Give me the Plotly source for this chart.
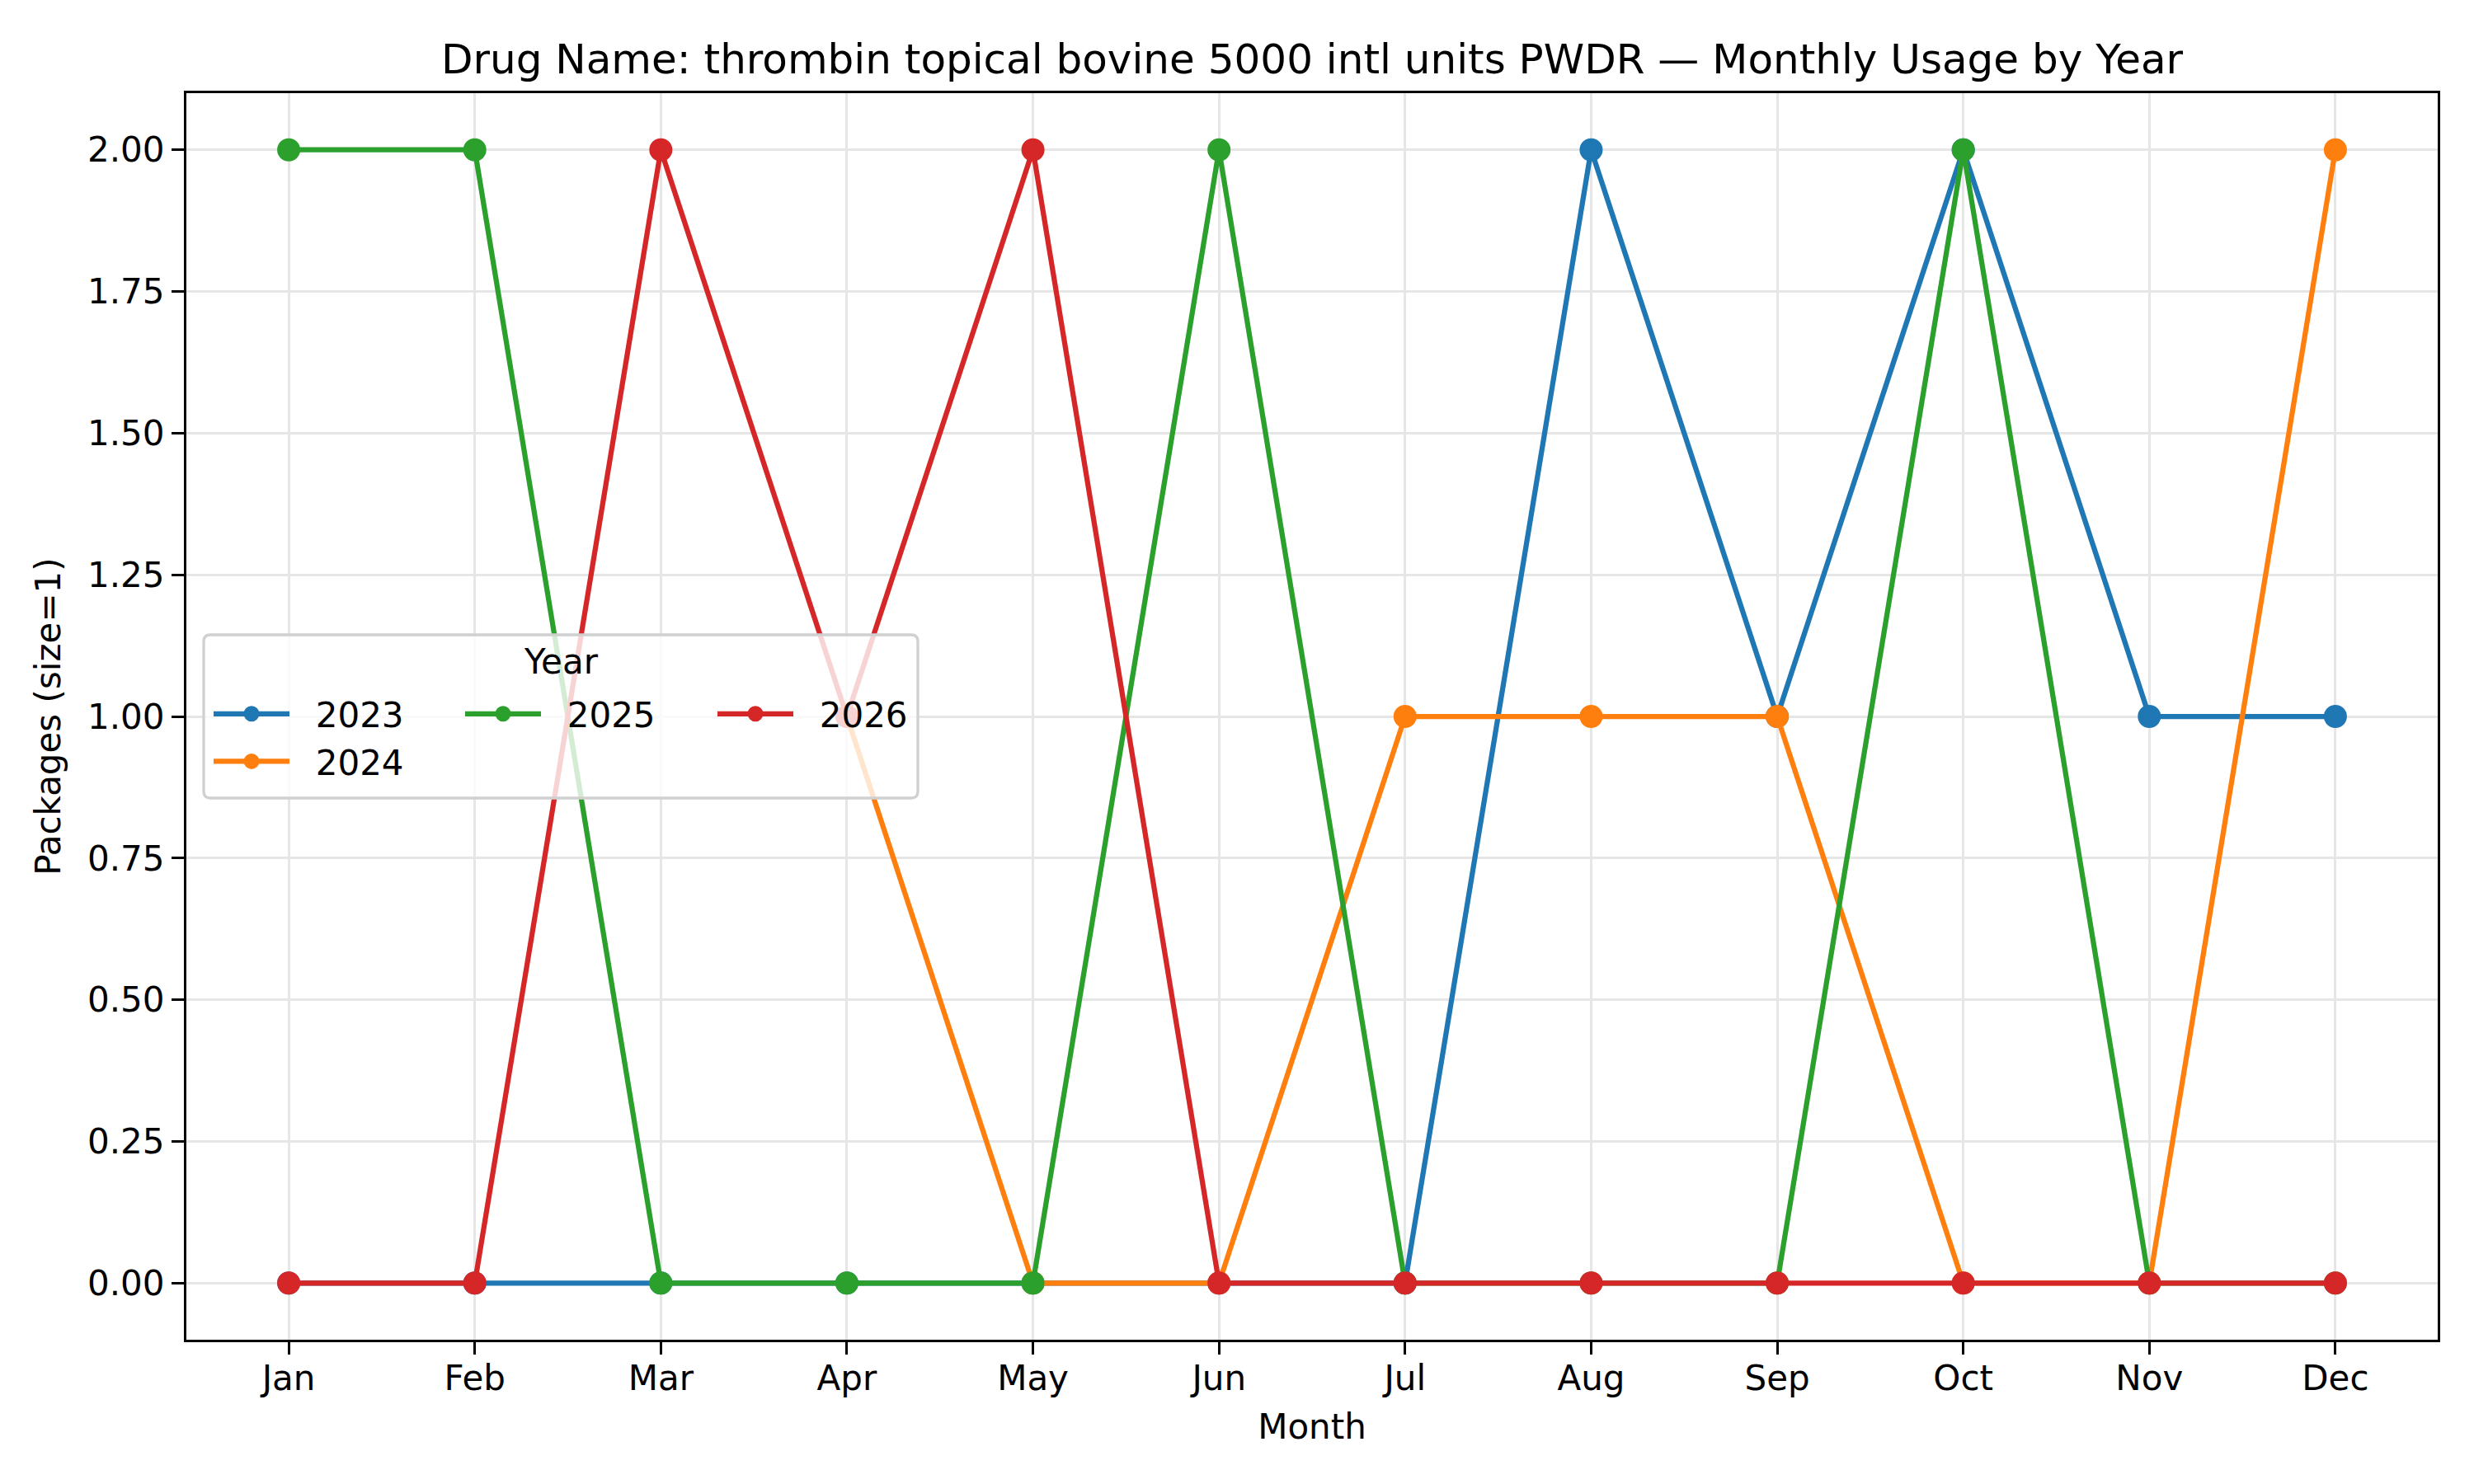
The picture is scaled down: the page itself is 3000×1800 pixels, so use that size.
import plotly.graph_objects as go

months = ["Jan", "Feb", "Mar", "Apr", "May", "Jun", "Jul", "Aug", "Sep", "Oct", "Nov", "Dec"]
years = ["2023", "2024", "2025", "2026"]
usage_2023 = [0, 0, 0, 0, 0, 0, 0, 2, 1, 2, 1, 1]
usage_2024 = [None, None, None, 1, 0, 0, 1, 1, 1, 0, 0, 2]
usage_2025 = [2, 2, 0, 0, 0, 2, 0, 0, 0, 2, 0, 0]
usage_2026 = [0, 0, 2, 1, 2, 0, 0, 0, 0, 0, 0, 0]
y_ticks = [0, 0.25, 0.5, 0.75, 1.0, 1.25, 1.5, 1.75, 2.0]

series = [usage_2023, usage_2024, usage_2025, usage_2026]
colors = ["#1f77b4", "#ff7f0e", "#2ca02c", "#d62728"]
legend_ids = ["legend", "legend", "legend2", "legend3"]

FONT = "DejaVu Sans"
W, H = 3000, 1800
ML, MR, MT, MB = 226, 44, 113, 175
PW, PH = W - ML - MR, H - MT - MB


def px_x(p):
    return (p - ML) / PW


def px_y(p):
    return (H - MB - p) / PH


fig = go.Figure()
for yr, vals, col, lg in zip(years, series, colors, legend_ids):
    fig.add_trace(go.Scatter(
        x=months, y=vals, name="\u00a0\u00a0" + yr, mode="lines+markers",
        line=dict(color=col, width=6.25),
        marker=dict(color=col, size=25, line=dict(color=col, width=3)),
        connectgaps=False, legend=lg,
        hovertemplate=yr + " %{x}: %{y}<extra></extra>",
    ))

axis_common = dict(
    showgrid=True, gridcolor="#e6e6e6", gridwidth=3.3,
    showline=True, linecolor="black", linewidth=3.3, mirror=True,
    ticks="outside", ticklen=15, tickwidth=3.3, tickcolor="black",
    tickfont=dict(family=FONT, size=42, color="black"),
    zeroline=False,
)

legend_common = dict(
    bgcolor="rgba(0,0,0,0)", borderwidth=0,
    font=dict(family=FONT, size=42, color="black"),
    xanchor="left", yanchor="top", xref="paper", yref="paper",
    itemwidth=92, orientation="v", tracegroupgap=0,
)

fig.update_layout(
    width=W, height=H,
    margin=dict(l=ML, r=MR, t=MT, b=MB),
    paper_bgcolor="white", plot_bgcolor="white",
    title=dict(text="Drug Name: thrombin topical bovine 5000 intl units PWDR \u2014 Monthly Usage by Year",
               font=dict(family=FONT, size=50, color="black"),
               x=0.5, xref="paper", xanchor="center",
               y=1 - 71 / H, yref="container", yanchor="middle"),
    xaxis=dict(type="category", categoryorder="array", categoryarray=months,
               range=[-0.55, 11.55], ticklabelstandoff=-8,
               title=dict(text="Month", font=dict(family=FONT, size=42, color="black"), standoff=22),
               **axis_common),
    yaxis=dict(range=[-0.1, 2.1], tickvals=y_ticks, tickformat=".2f",
               title=dict(text="Packages (size=1)", font=dict(family=FONT, size=42, color="black"), standoff=20),
               **axis_common),
    legend=dict(x=px_x(254), y=px_y(832), **legend_common),
    legend2=dict(x=px_x(559), y=px_y(832), **legend_common),
    legend3=dict(x=px_x(865), y=px_y(832), **legend_common),
    showlegend=True,
)

# legend frame (semi-transparent, like the reference)
x0, x1, y0, y1, r = 247, 1113, 770, 968, 8
path = (f"M{px_x(x0 + r)},{px_y(y0)} L{px_x(x1 - r)},{px_y(y0)} Q{px_x(x1)},{px_y(y0)} {px_x(x1)},{px_y(y0 + r)} "
        f"L{px_x(x1)},{px_y(y1 - r)} Q{px_x(x1)},{px_y(y1)} {px_x(x1 - r)},{px_y(y1)} "
        f"L{px_x(x0 + r)},{px_y(y1)} Q{px_x(x0)},{px_y(y1)} {px_x(x0)},{px_y(y1 - r)} "
        f"L{px_x(x0)},{px_y(y0 + r)} Q{px_x(x0)},{px_y(y0)} {px_x(x0 + r)},{px_y(y0)} Z")
fig.add_shape(type="path", path=path, xref="paper", yref="paper",
              fillcolor="rgba(255,255,255,0.8)", line=dict(color="#d0d0d0", width=3.3), layer="above")
fig.add_annotation(text="Year", x=px_x(680), y=px_y(802), xref="paper", yref="paper",
                   xanchor="center", yanchor="middle", showarrow=False,
                   font=dict(family=FONT, size=42, color="black"))

fig.write_html("out.html")
